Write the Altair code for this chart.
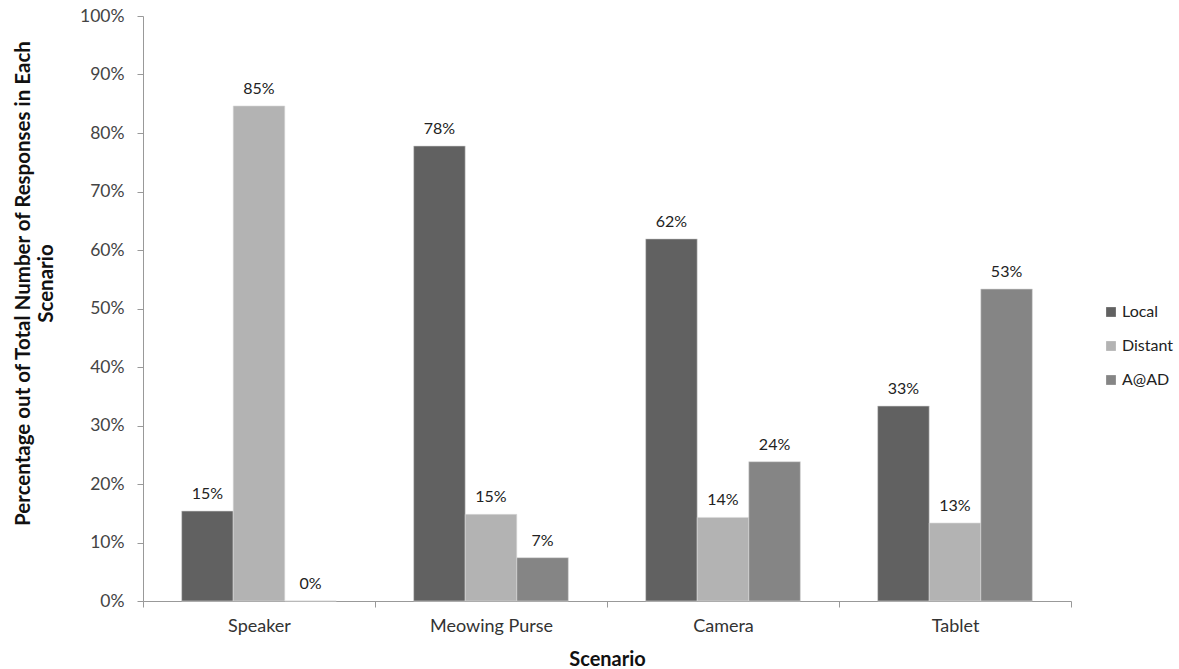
import altair as alt
import pandas as pd

# Share of responses per scenario, by response type
scenarios = ["Speaker", "Meowing Purse", "Camera", "Tablet"]
series = ["Local", "Distant", "A@AD"]
local_vals = [0.1538, 0.7778, 0.6190, 0.3333]
distant_vals = [0.8462, 0.1481, 0.1429, 0.1333]
aad_vals = [0.0, 0.0741, 0.2381, 0.5333]
colors = ["#616161", "#b3b3b3", "#858585"]

rows = []
for i, sc in enumerate(scenarios):
    for name, vals in zip(series, [local_vals, distant_vals, aad_vals]):
        rows.append({"Scenario": sc, "Type": name, "Share": vals[i]})
df = pd.DataFrame(rows)

FONT = "Lato"
W, H = 928, 585

x = alt.X(
    "Scenario:N",
    sort=scenarios,
    scale=alt.Scale(paddingInner=0, paddingOuter=0),
    axis=alt.Axis(
        title="Scenario",
        titleFont=FONT,
        titleFontSize=20,
        titleFontWeight="bold",
        titleColor="#111111",
        titlePadding=14,
        labelFont=FONT,
        labelFontSize=18,
        labelColor="#333333",
        labelAngle=0,
        labelPadding=10,
        tickBand="extent",
        tickSize=6,
        tickColor="#999999",
        domainColor="#999999",
        grid=False,
    ),
)
xoff = alt.XOffset(
    "Type:N",
    sort=series,
    scale=alt.Scale(paddingInner=0, paddingOuter=0.75),
)
y = alt.Y(
    "Share:Q",
    scale=alt.Scale(domain=[0, 1]),
    axis=alt.Axis(
        title=["Percentage out of Total Number of Responses in Each", "Scenario"],
        titleFont=FONT,
        titleFontSize=20.5,
        titleFontWeight="bold",
        titleColor="#111111",
        titleLineHeight=23,
        titleAngle=270,
        titleAlign="center",
        titleBaseline="middle",
        titleX=-120,
        titleY=267,
        format=".0%",
        values=[i / 10 for i in range(11)],
        labelFont=FONT,
        labelFontSize=17.5,
        labelColor="#444444",
        labelPadding=13,
        tickSize=6,
        tickColor="#999999",
        domainColor="#999999",
        grid=False,
    ),
)
color = alt.Color(
    "Type:N",
    sort=series,
    scale=alt.Scale(domain=series, range=colors),
    legend=alt.Legend(
        title=None,
        orient="none",
        legendX=960,
        legendY=288,
        symbolType="square",
        symbolSize=95,
        symbolStrokeWidth=0,
        labelFont=FONT,
        labelFontSize=16,
        labelColor="#222222",
        rowPadding=18,
        labelOffset=3,
    ),
)

bars = alt.Chart(df).mark_bar(stroke="#d8d8d8", strokeWidth=0.6).encode(
    x=x, xOffset=xoff, y=y, color=color
)
labels = alt.Chart(df).mark_text(
    baseline="bottom", dy=-9, font=FONT, fontSize=16, color="#222222"
).encode(
    x=alt.X("Scenario:N", sort=scenarios),
    xOffset=alt.XOffset("Type:N", sort=series),
    y="Share:Q",
    text=alt.Text("Share:Q", format=".0%"),
)

chart = (
    alt.layer(bars, labels)
    .properties(
        width=W,
        height=H,
        background="white",
        autosize=alt.AutoSizeParams(type="none"),
        padding={"left": 143, "top": 16, "right": 1179 - 143 - W, "bottom": 669 - 16 - H},
    )
    .configure_view(strokeWidth=0)
    .configure_axis(grid=False)
)

chart.save("out.html", embed_options={"renderer": "svg", "actions": False})
